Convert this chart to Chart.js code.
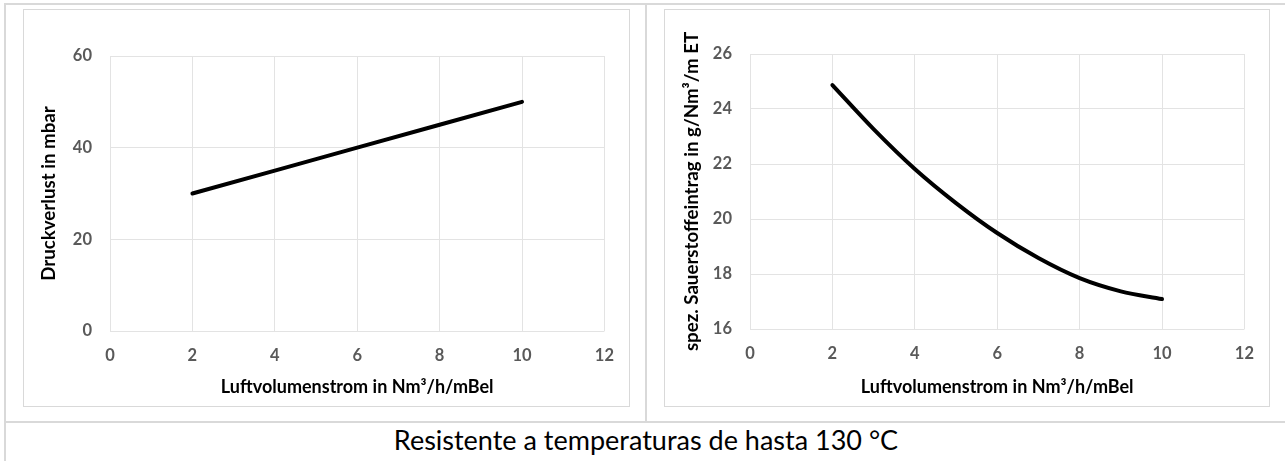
<!DOCTYPE html>
<html>
<head>
<meta charset="utf-8">
<script src="https://cdn.jsdelivr.net/npm/chart.js@4.4.1/dist/chart.umd.min.js"></script>
<style>
  body { margin: 0; background: #fff; width: 1285px; height: 461px; overflow: hidden; position: relative; font-family: Lato, sans-serif; }
  .line { position: absolute; background: #d9d9d9; }
  .frame { position: absolute; border: 1px solid #d9d9d9; }
  .frame canvas { display: block; }
  #caption { position: absolute; left: 4px; top: 424px; width: 1284px; text-align: center; font-size: 27px; line-height: 32px; color: #000; }
</style>
</head>
<body>
<div class="line" style="left:4px; top:3px; width:1281px; height:2px;"></div>
<div class="line" style="left:4px; top:3px; width:2px; height:458px;"></div>
<div class="line" style="left:645px; top:3px; width:2px; height:420px;"></div>
<div class="line" style="left:4px; top:421px; width:1281px; height:2px;"></div>

<div class="frame" style="left:23px; top:9px;"><canvas id="chart-pressure" width="605" height="396"></canvas></div>
<div class="frame" style="left:664px; top:9px;"><canvas id="chart-oxygen" width="604" height="396"></canvas></div>
<div id="caption">Resistente a temperaturas de hasta 130 °C</div>

<script>
// values
const airFlow = [2, 4, 6, 8, 10];
const pressureLoss = [30, 35, 40, 45, 50];

const airFlowFine = [2, 3, 4, 5, 6, 7, 8, 9, 10];
const oxygenTransfer = [24.87, 23.27, 21.82, 20.58, 19.49, 18.58, 17.85, 17.37, 17.09];

const xTitle = 'Luftvolumenstrom in Nm³/h/mBel';
const pressureTitle = 'Druckverlust in mbar';
const oxygenTitle = 'spez. Sauerstoffeintrag in g/Nm³/m ET';

const gridColor = '#e3e3e3';
const tickColor = '#595959';

function makeChart(id, xs, ys, yMin, yMax, yStep, yTitle, box) {
    const ctx = document.getElementById(id).getContext('2d');
    return new Chart(ctx, {
        type: 'line',
        data: {
            datasets: [{
                data: xs.map((x, i) => ({ x: x, y: ys[i] })),
                borderColor: '#000',
                borderWidth: 4,
                pointRadius: 0,
                fill: false,
                cubicInterpolationMode: 'monotone',
                borderCapStyle: 'round'
            }]
        },
        options: {
            responsive: false,
            animation: false,
            layout: { padding: { left: 0, top: box.top, right: box.right, bottom: 0 } },
            plugins: { legend: { display: false }, tooltip: { enabled: false } },
            scales: {
                x: {
                    type: 'linear',
                    min: 0,
                    max: 12,
                    ticks: { stepSize: 2, color: tickColor, padding: 15, font: { family: 'Lato', size: 16.5, weight: 'bold' } },
                    grid: { color: gridColor, drawTicks: false },
                    border: { display: false },
                    title: {
                        display: true,
                        text: xTitle,
                        color: '#000',
                        font: { family: 'Lato', size: 18, weight: 'bold' },
                        padding: { top: 0, bottom: 8 }
                    },
                    afterFit: s => { s.height = box.xHeight; }
                },
                y: {
                    min: yMin,
                    max: yMax,
                    ticks: { stepSize: yStep, color: tickColor, padding: 18, font: { family: 'Lato', size: 16.5, weight: 'bold' } },
                    grid: { color: gridColor, drawTicks: false },
                    border: { display: false },
                    title: {
                        display: true,
                        text: yTitle,
                        color: '#000',
                        font: { family: 'Lato', size: 18.7, weight: 'bold' },
                        padding: { top: box.titlePad, bottom: 0 }
                    },
                    afterFit: s => { s.width = box.yWidth; }
                }
            }
        }
    });
}

makeChart('chart-pressure', airFlow, pressureLoss, 0, 60, 20, pressureTitle,
    { top: 46, right: 19, xHeight: 75, yWidth: 86, titlePad: 14 });
makeChart('chart-oxygen', airFlowFine, oxygenTransfer, 16, 26, 2, oxygenTitle,
    { top: 44, right: 18, xHeight: 77, yWidth: 85, titlePad: 16 });
</script>
</body>
</html>
